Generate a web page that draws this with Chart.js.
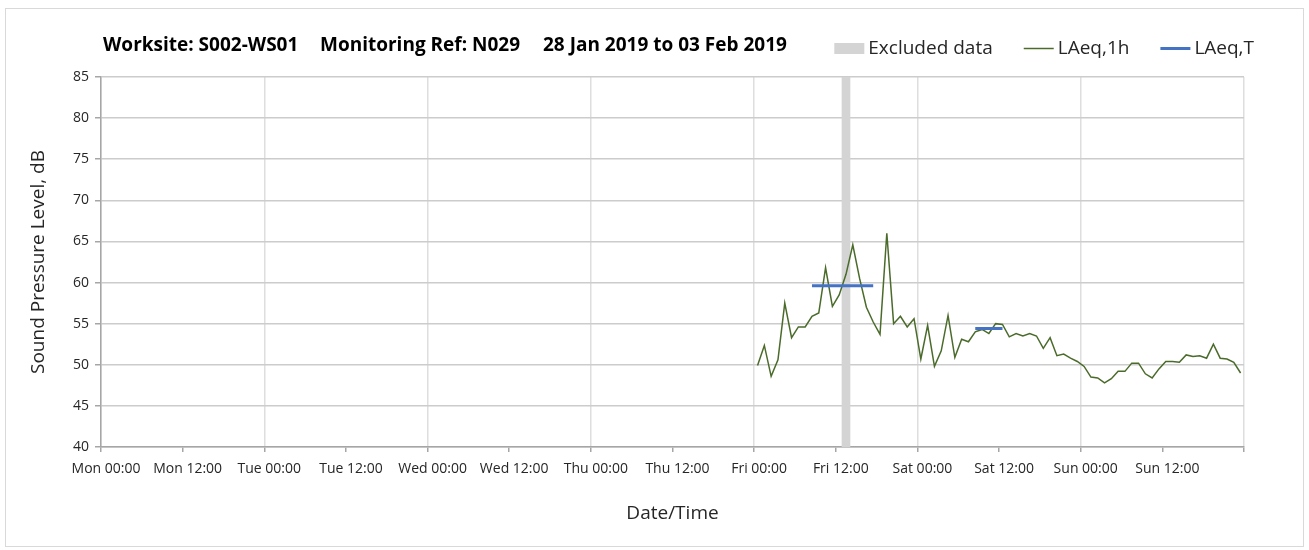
<!DOCTYPE html>
<html>
<head>
<meta charset="utf-8">
<script src="https://cdn.jsdelivr.net/npm/chart.js@4/dist/chart.umd.min.js"></script>
<style>
  html, body { margin: 0; padding: 0; background: #ffffff; }
  #wrap { position: absolute; left: 0; top: 0; width: 1309px; height: 550px; }
</style>
</head>
<body>
<div id="wrap"><canvas id="noiseChart" width="1309" height="550"></canvas></div>
<script>
// ---- chart content -------------------------------------------------------
const titleParts = ['Worksite: S002-WS01', 'Monitoring Ref: N029', '28 Jan 2019 to 03 Feb 2019'];

// x axis: hours since Mon 00:00, one label every 12 h
const xTickLabels = [
  'Mon 00:00', 'Mon 12:00', 'Tue 00:00', 'Tue 12:00', 'Wed 00:00', 'Wed 12:00',
  'Thu 00:00', 'Thu 12:00', 'Fri 00:00', 'Fri 12:00', 'Sat 00:00', 'Sat 12:00',
  'Sun 00:00', 'Sun 12:00'
];

// hourly LAeq,1h readings, first one centred on Fri 00:30
const firstReadingHour = 96.5;
const laeq1h = [
  49.9, 52.35, 48.6, 50.6, 57.5, 53.3, 54.6, 54.6, 55.9, 56.3,
  61.8, 57.1, 58.5, 61.0, 64.6, 60.5, 57.0, 55.2, 53.7, 66.0,
  55.0, 55.9, 54.6, 55.6, 50.7, 54.8, 49.8, 51.7, 56.0, 50.9,
  53.1, 52.8, 54.0, 54.3, 53.8, 55.0, 54.9, 53.4, 53.8, 53.5,
  53.8, 53.5, 52.0, 53.3, 51.1, 51.3, 50.8, 50.4, 49.8, 48.5,
  48.4, 47.8, 48.3, 49.2, 49.2, 50.2, 50.2, 48.9, 48.4, 49.5,
  50.4, 50.4, 50.3, 51.2, 51.0, 51.1, 50.8, 52.5, 50.8, 50.7,
  50.3, 49.0
];

// LAeq,T assessment periods (start/end hour since Mon 00:00) and levels
const laeqTPeriods = [[104.5, 113.5], [128.5, 132.5]];
const laeqT = [59.6, 54.4];

// hours whose readings were excluded
const excludedHours = [109.5];

const yMin = 40, yMax = 85, yStep = 5;

// ---- styling -------------------------------------------------------------
const FONT = "'Open Sans', 'DejaVu Sans', sans-serif";
const TEXT = '#262626';
const GREEN = '#4a6b2a';
const BLUE = '#4472c4';
const EXCL = '#d4d4d4';

// ---- datasets built from the arrays above --------------------------------
const laeq1hPoints = laeq1h.map((v, i) => ({ x: firstReadingHour + i, y: v }));

const laeqTPoints = [];
laeqTPeriods.forEach((p, i) => {
  if (i > 0) laeqTPoints.push({ x: (laeqTPeriods[i - 1][1] + p[0]) / 2, y: null });
  laeqTPoints.push({ x: p[0], y: laeqT[i] });
  laeqTPoints.push({ x: p[1], y: laeqT[i] });
});

const excludedBars = excludedHours.map(h => ({ x: h, y: [yMin, yMax] }));

// ---- title, legend and outer frame ----------------------------------------
const legendItems = [
  { text: 'Excluded data', kind: 'box', color: EXCL },
  { text: 'LAeq,1h', kind: 'line', color: GREEN, width: 1.5 },
  { text: 'LAeq,T', kind: 'line', color: BLUE, width: 3 }
];

const headerPlugin = {
  id: 'header',
  beforeDraw(chart) {
    const { ctx, width, height } = chart;
    ctx.save();
    ctx.fillStyle = '#ffffff';
    ctx.fillRect(0, 0, width, height);
    ctx.strokeStyle = '#d9d9d9';
    ctx.lineWidth = 1;
    ctx.strokeRect(5.5, 8.5, width - 11, height - 12);
    ctx.restore();
  },
  afterDraw(chart) {
    const { ctx } = chart;
    ctx.save();
    // title
    ctx.fillStyle = '#000000';
    ctx.textBaseline = 'middle';
    ctx.textAlign = 'left';
    ctx.font = "bold 19px " + FONT;
    const titleX = [103, 320, 543];
    titleParts.forEach((t, i) => ctx.fillText(t, titleX[i], 46));

    // legend, right aligned
    ctx.font = "19px " + FONT;
    const cy = 48.5, markW = 30, markGap = 4, itemGap = 31;
    let end = 1254;
    const placed = [];
    for (let i = legendItems.length - 1; i >= 0; i--) {
      const it = legendItems[i];
      const tw = ctx.measureText(it.text).width;
      const tx = end - tw;
      const mx = tx - markGap - markW;
      placed.unshift({ it, tx, mx });
      end = mx - itemGap;
    }
    placed.forEach(({ it, tx, mx }) => {
      if (it.kind === 'box') {
        ctx.fillStyle = it.color;
        ctx.fillRect(mx, cy - 5.5, markW, 11);
      } else {
        ctx.strokeStyle = it.color;
        ctx.lineWidth = it.width;
        ctx.beginPath();
        ctx.moveTo(mx, cy);
        ctx.lineTo(mx + markW, cy);
        ctx.stroke();
      }
      ctx.fillStyle = TEXT;
      ctx.fillText(it.text, tx, cy);
    });
    ctx.restore();
  }
};

// ---- chart -----------------------------------------------------------------
new Chart(document.getElementById('noiseChart'), {
  type: 'line',
  data: {
    datasets: [
      {
        label: 'LAeq,T',
        data: laeqTPoints,
        borderColor: BLUE,
        borderWidth: 3,
        pointRadius: 0,
        spanGaps: false,
        order: 1
      },
      {
        label: 'LAeq,1h',
        data: laeq1hPoints,
        borderColor: GREEN,
        borderWidth: 1.5,
        pointRadius: 0,
        tension: 0,
        order: 2
      },
      {
        type: 'bar',
        label: 'Excluded data',
        data: excludedBars,
        backgroundColor: EXCL,
        borderWidth: 0,
        barThickness: 8,
        grouped: false,
        order: 3
      }
    ]
  },
  options: {
    responsive: false,
    animation: false,
    layout: { padding: { left: 0, top: 77, right: 65, bottom: 0 } },
    plugins: {
      legend: { display: false },
      title: { display: false },
      tooltip: { enabled: false }
    },
    scales: {
      x: {
        type: 'linear',
        min: 0,
        max: 168,
        offset: false,
        ticks: {
          stepSize: 12,
          autoSkip: false,
          maxRotation: 0,
          minRotation: 0,
          labelOffset: 5,
          padding: 9,
          color: TEXT,
          font: { family: FONT, size: 14 },
          callback: v => xTickLabels[Math.round(v / 12)] ?? ''
        },
        grid: {
          offset: false,
          color: c => (c.tick && c.tick.value % 24 === 0) ? '#dedede' : 'rgba(0,0,0,0)',
          lineWidth: 1.5,
          tickLength: 5,
          tickColor: '#a6a6a6',
          tickWidth: 1.5
        },
        border: { color: '#a6a6a6', width: 1.5 },
        title: {
          display: true,
          text: 'Date/Time',
          color: TEXT,
          font: { family: FONT, size: 19 },
          padding: { top: 0, bottom: 25 }
        },
        afterFit: s => { s.height = 103; }
      },
      y: {
        min: yMin,
        max: yMax,
        ticks: {
          stepSize: yStep,
          padding: 6,
          color: TEXT,
          font: { family: FONT, size: 14 }
        },
        grid: {
          color: '#cccccc',
          lineWidth: 1.5,
          tickLength: 6,
          tickColor: '#a6a6a6',
          tickWidth: 1.5
        },
        border: { color: '#a6a6a6', width: 1.5 },
        title: {
          display: true,
          text: 'Sound Pressure Level, dB',
          color: TEXT,
          font: { family: FONT, size: 19 },
          padding: { top: 27, bottom: 0 }
        },
        afterFit: s => { s.width = 101; }
      }
    }
  },
  plugins: [headerPlugin]
});
</script>
</body>
</html>
